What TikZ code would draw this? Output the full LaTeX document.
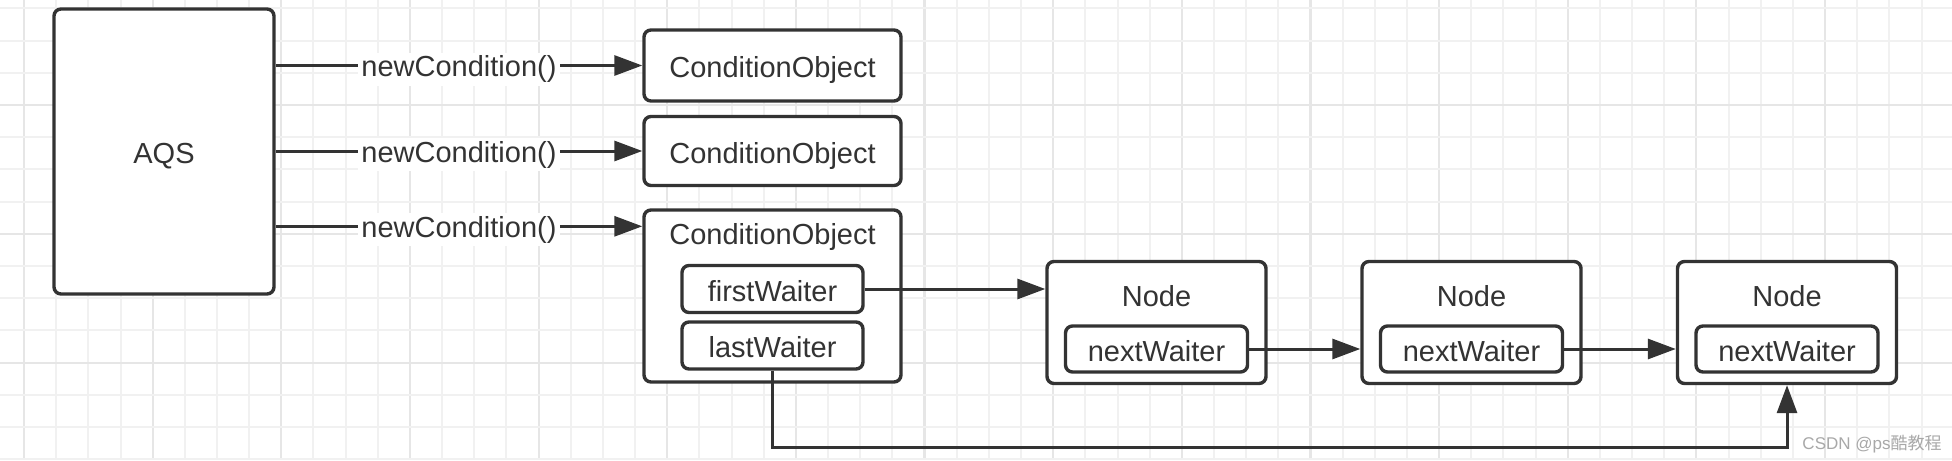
\documentclass[tikz,border=0pt]{standalone}
\usepackage{fontspec}
\setmainfont{Liberation Sans}
\newfontfamily\cjkfont{Noto Sans CJK SC}
\usetikzlibrary{arrows.meta,calc}
\definecolor{ink}{HTML}{333333}
\definecolor{gridminor}{HTML}{F1F1F1}
\definecolor{gridmajor}{HTML}{E6E6E6}
\definecolor{wm}{HTML}{A8A8A8}
\tikzset{
  box/.style={draw=ink, line width=1.7pt, rounded corners=3.5pt, fill=white, inner sep=0pt, text=ink, font=\fontsize{14.5}{16}\selectfont, text height=12.3pt, text depth=0pt},
  plain/.style={inner sep=0pt, text=ink, font=\fontsize{14.5}{16}\selectfont, text height=12.3pt, text depth=0pt},
  lbl/.style={fill=white, inner sep=1.5pt, yshift=-1.8pt, text=ink, font=\fontsize{14.5}{16}\selectfont},
  arr/.style={draw=ink, line width=1.5pt, -{Triangle[length=14pt,width=10pt]}},
}
\begin{document}
\begin{tikzpicture}[x=0.5pt,y=-0.5pt]
\useasboundingbox (0,0) rectangle (1952,460);
\fill[white] (0,0) rectangle (1952,460);
% grid
\foreach \k in {0,...,60}{
  \pgfmathsetmacro{\gx}{24.05+\k*32.16}
  \pgfmathtruncatemacro{\km}{mod(\k,4)}
  \ifnum\km=0
    \draw[gridmajor, line width=1.1pt] (\gx,0) -- (\gx,460);
  \else
    \draw[gridminor, line width=1pt] (\gx,0) -- (\gx,460);
  \fi
}
\foreach \j in {0,...,14}{
  \pgfmathsetmacro{\gy}{8.4+\j*32.2}
  \pgfmathtruncatemacro{\jm}{mod(\j,4)}
  \ifnum\jm=3
    \draw[gridmajor, line width=1.1pt] (0,\gy) -- (1952,\gy);
  \else
    \draw[gridminor, line width=1pt] (0,\gy) -- (1952,\gy);
  \fi
}
% nodes
\node[box, minimum width=110pt, minimum height=142.5pt] (aqs) at (164,151.5) {AQS};
\node[box, minimum width=128.5pt, minimum height=35.5pt] (co1) at (772.5,65.5) {ConditionObject};
\node[box, minimum width=128.5pt, minimum height=34.5pt] (co2) at (772.5,151) {ConditionObject};
\node[box, minimum width=128.5pt, minimum height=86pt] (co3) at (772.5,296) {};
\node[plain] (co3t) at (772.5,232) {ConditionObject};
\node[box, minimum width=90.5pt, minimum height=23.5pt] (fw) at (772.5,289) {firstWaiter};
\node[box, minimum width=90.5pt, minimum height=23.5pt] (lw) at (772.5,345.5) {lastWaiter};
\foreach \i/\cx in {1/1156.5,2/1471.5,3/1787}{
  \node[box, minimum width=109.5pt, minimum height=61pt] (n\i) at (\cx,322.5) {};
  \node[plain] (n\i t) at (\cx,294) {Node};
  \node[box, minimum width=91pt, minimum height=23pt] (nw\i) at (\cx,349) {nextWaiter};
}
% connectors
\draw[arr] (aqs.east |- co1.west) -- node[lbl] {newCondition()} (co1.west);
\draw[arr] (aqs.east |- co2.west) -- node[lbl] {newCondition()} (co2.west);
\coordinate (c3in) at ($(co3.north west)+(0,18)$);
\draw[arr] (aqs.east |- c3in) -- node[lbl] {newCondition()} (c3in);
\draw[arr] (fw.east) -- (fw.east -| n1.west);
\draw[arr] (nw1.east) -- (nw1.east -| n2.west);
\draw[arr] (nw2.east) -- (nw2.east -| n3.west);
\coordinate (loopy) at (0,447);
\draw[arr, rounded corners=0pt] (lw.south) -- (lw.south |- loopy) -- (n3.south |- loopy) -- (n3.south);
% watermark
\node[inner sep=0pt, text=wm, font=\fontsize{8.5}{10}\selectfont] (wmk) at (1872,444) {CSDN @ps{\cjkfont 酷教程}};
\end{tikzpicture}
\end{document}
